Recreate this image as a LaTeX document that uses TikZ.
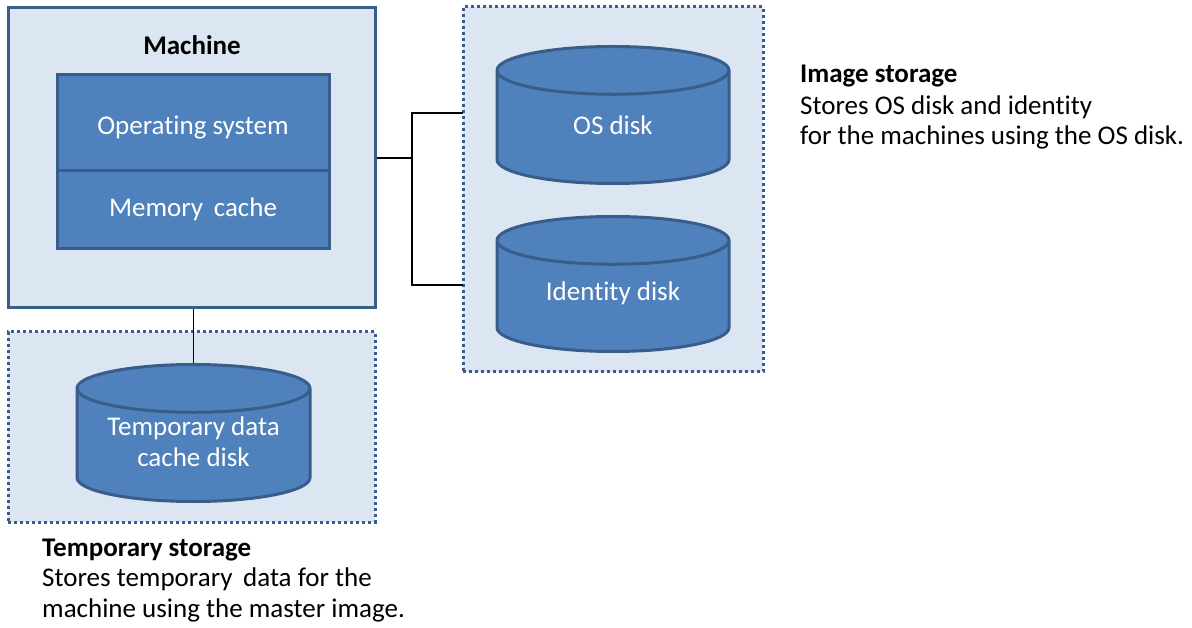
\documentclass[tikz,border=0pt]{standalone}
\usepackage{fontspec}
\setmainfont{Carlito}[Ligatures=NoCommon]
\usetikzlibrary{shapes.geometric}

\definecolor{paneblue}{HTML}{DCE6F2}
\definecolor{partblue}{HTML}{4F81BD}
\definecolor{edgeblue}{HTML}{385D8A}

\tikzset{
    panel/.style={draw=edgeblue, fill=paneblue, line width=3pt, inner sep=0pt},
    store/.style={draw=edgeblue, fill=paneblue, line width=3pt, inner sep=0pt,
        dash pattern=on 3pt off 3pt},
    part/.style={draw=edgeblue, fill=partblue, line width=3pt, inner sep=0pt,
        text=white, font=\fontsize{27}{31}\selectfont},
    disk/.style={cylinder, shape border rotate=90, aspect=0.6, anchor=top,
        draw=edgeblue, fill=partblue, line width=3pt, inner sep=0pt,
        text height=20pt, text depth=0pt, font=\fontsize{27}{31}\selectfont},
    disklbl/.style={text=white, align=center, inner sep=0pt,
        font=\fontsize{27}{31}\selectfont},
    title/.style={font=\fontsize{27}{31}\selectfont\bfseries, inner sep=0pt},
    note/.style={font=\fontsize{27}{30.5}\selectfont, align=left, inner sep=0pt},
    wire/.style={draw=black, line width=1.5pt},
}

\begin{document}
\begin{tikzpicture}[x=1pt, y=-1pt]
\useasboundingbox (0,0) rectangle (1192,628);

    % boxes
    \node[panel, minimum width=367pt, minimum height=300pt] (machine) at (191.5,158) {};
    \node[title, anchor=base] (machinelbl) at (192,55) {Machine};
    \node[part, minimum width=272pt, minimum height=96pt, text height=30pt, text depth=6pt]
        (os) at (193,123) {Operating system};
    \node[part, minimum width=272pt, minimum height=78pt, text height=20pt, text depth=6pt]
        (memcache) at (193,210) {Memory\, cache};

    \node[store, minimum width=300pt, minimum height=365pt] (imgstore) at (613,189.5) {};
    \node[store, minimum width=367pt, minimum height=190pt] (tmpstore) at (191.5,427) {};

    % disks
    \node[disk, minimum width=232pt, minimum height=137pt] (osdisk) at (613,45) {\phantom{OS disk}};
    \node[disklbl] (osdisklbl) at (613,125) {OS disk};
    \node[disk, minimum width=232pt, minimum height=135pt] (iddisk) at (613,215) {\phantom{OS disk}};
    \node[disklbl] (iddisklbl) at (613,293) {Identity disk};
    \node[disk, minimum width=233pt, minimum height=137pt] (tmpdisk) at (193.5,363) {\phantom{OS disk}};
    \node[disklbl] (tmpdisklbl) at (193.5,441.5) {Temporary data\\cache disk};

    % wires
    \coordinate (hub) at (412,158);
    \coordinate (osjoin) at (463,113);
    \coordinate (idjoin) at (463,285);
    \draw[wire] (machine.east) -- (hub);
    \draw[wire] (osjoin) -| (hub) |- (idjoin);
    \draw[wire] (tmpdisk.top) -- (tmpdisk.top |- machine.south);

    % notes
    \node[title, anchor=base west] (imgtitle) at (800,83) {Image storage};
    \node[note, anchor=base west] (imgnote) at (800,145)
        {Stores OS disk and identity\\for the machines using the OS disk.};
    \node[title, anchor=base west] (tmptitle) at (42,556) {Temporary storage};
    \node[note, anchor=base west] (tmpnote) at (42,617)
        {Stores temporary\, data for the\\machine using the master image.};

\end{tikzpicture}
\end{document}
